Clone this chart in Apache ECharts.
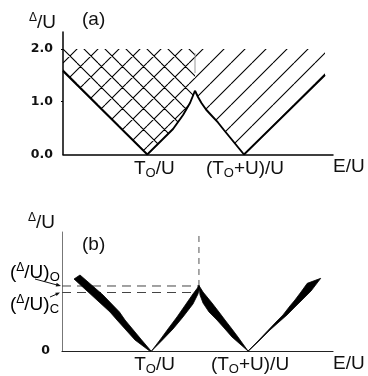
<!DOCTYPE html>
<html><head><meta charset="utf-8">
<script src="https://cdn.jsdelivr.net/npm/echarts@6/dist/echarts.min.js"></script>
<style>html,body{margin:0;padding:0;background:#fff}#c{width:368px;height:376px}</style>
</head><body><div id="c"></div>
<script>
// ---------------- data ----------------
// panel (a)
const aYTicks = [0, 1, 2];
const aT0 = 0.874, aT0U = 1.877;
const aV1X = [0, 0.874, 1.141, 1.245, 1.317, 1.351, 1.369];
const aV1Y = [1.583, 0, 0.483, 0.749, 0.976, 1.128, 1.209];
const aV2X = [1.369, 1.40, 1.436, 1.483, 1.545, 1.607, 1.669, 1.877, 2.717];
const aV2Y = [1.209, 1.09, 0.976, 0.853, 0.730, 0.607, 0.464, 0, 1.507];
const aHatchTop = 2.0;
const aDividerY = [1.545, 1.92];
// panel (b)
const bT0 = 0.925, bT0U = 1.922;
const bLevelO = 1.229, bLevelC = 1.106;
const bCuspX = 1.415;
const wedgeLX = [0.186, 0.424, 0.594, 0.651, 0.823, 0.920, 0.899, 0.754, 0.568, 0.496, 0.310, 0.124];
const wedgeLY = [1.437, 1.059, 0.737, 0.586, 0.208, 0, 0.009, 0.208, 0.586, 0.737, 1.049, 1.361];
const wedgeM1X = [0.925, 1.012, 1.095, 1.188, 1.281, 1.353, 1.395, 1.415, 1.421, 1.405, 1.353, 1.250, 1.147, 1.038];
const wedgeM1Y = [0, 0.208, 0.416, 0.643, 0.888, 1.078, 1.181, 1.238, 1.191, 1.078, 0.888, 0.643, 0.416, 0.208];
const wedgeM2X = [1.415, 1.426, 1.457, 1.519, 1.601, 1.684, 1.756, 1.839, 1.922, 1.870, 1.818, 1.756, 1.684, 1.622, 1.550, 1.457];
const wedgeM2Y = [1.238, 1.059, 0.907, 0.737, 0.586, 0.416, 0.265, 0.132, 0, 0.132, 0.265, 0.416, 0.586, 0.737, 0.907, 1.115];
const wedgeRX = [1.922, 2.025, 2.128, 2.211, 2.283, 2.355, 2.407, 2.469, 2.534, 2.673, 2.573, 2.480, 2.407, 2.325, 2.242, 2.149, 2.035, 1.927];
const wedgeRY = [0, 0.189, 0.388, 0.548, 0.681, 0.851, 0.964, 1.115, 1.280, 1.374, 1.134, 0.964, 0.832, 0.681, 0.548, 0.397, 0.189, 0];

// ---------------- helpers ----------------
const FONT = 'Liberation Sans';
const zip = (xs, ys) => xs.map((x, i) => [x, ys[i]]);

function makeHatch(cross) {
  const s = 21;
  const c = document.createElement('canvas');
  c.width = s; c.height = s;
  const g = c.getContext('2d');
  g.strokeStyle = '#000';
  g.lineWidth = 1.1;
  g.beginPath();
  for (let k = -2; k <= 2; k++) {
    g.moveTo(k * s, s); g.lineTo(k * s + s, 0);
    if (cross) { g.moveTo(14 + k * s, 0); g.lineTo(14 + k * s + s, s); }
  }
  g.stroke();
  return c;
}
const crossPat = { image: makeHatch(true), repeat: 'repeat' };
const singlePat = { image: makeHatch(false), repeat: 'repeat' };

const cuspX = aV1X[aV1X.length - 1];
const lastX = aV2X[aV2X.length - 1];
const hatchRegions = [
  { pts: zip(aV1X, aV1Y).concat([[cuspX, aHatchTop], [0, aHatchTop]]), fill: crossPat },
  { pts: zip(aV2X, aV2Y).concat([[lastX, aHatchTop], [cuspX, aHatchTop]]), fill: singlePat }
];
const wedges = [zip(wedgeLX, wedgeLY), zip(wedgeM1X, wedgeM1Y), zip(wedgeM2X, wedgeM2Y), zip(wedgeRX, wedgeRY)];

const labelRich = {
  t: { fontFamily: FONT, fontSize: 19, lineHeight: 22, color: '#111' },
  s: { fontFamily: FONT, fontSize: 13, lineHeight: 13, padding: [9, 0, 0, 0], color: '#111' },
  d: { fontFamily: FONT, fontSize: 12, lineHeight: 12, padding: [0, 0, 10, 0], color: '#111' },
  sp14: { width: 14 }, sp4: { width: 4 }, sp6: { width: 6 }, sp2: { width: 2 }
};
function xFmt(t0, t0u, sp0, sp1) {
  return v => {
    if (Math.abs(v - t0) < 1e-6) return '{' + sp0 + '| }{t|T}{s|O}{t|/U}';
    if (Math.abs(v - t0u) < 1e-6) return '{' + sp1 + '| }{t|(T}{s|O}{t|+U)/U}';
    return '';
  };
}
const nameStyle = { fontFamily: FONT, fontSize: 19, color: '#111', align: 'left', verticalAlign: 'top', padding: [3, 0, 0, 0] };
const yNameStyle = { align: 'right', verticalAlign: 'bottom', padding: [0, 7, 0, 0], rich: labelRich };
const yLabStyle = { fontFamily: 'DejaVu Sans', fontWeight: 'bold', fontSize: 12.5, color: '#111' };

const option = {
  animation: false,
  backgroundColor: '#fff',
  title: [
    { text: '(a)', left: 82, top: 10, padding: 0, textStyle: { fontFamily: FONT, fontSize: 19, fontWeight: 'normal', color: '#111' } },
    { text: '(b)', left: 82, top: 235, padding: 0, textStyle: { fontFamily: FONT, fontSize: 19, fontWeight: 'normal', color: '#111' } }
  ],
  grid: [
    { left: 63, top: 32, width: 270, height: 122.5 },
    { left: 62, top: 232, width: 271, height: 119 }
  ],
  xAxis: [
    { gridIndex: 0, type: 'value', min: 0, max: 2.8, splitLine: { show: false },
      axisLine: { lineStyle: { color: '#000', width: 1.5 } }, axisTick: { show: false },
      axisLabel: { customValues: [aT0, aT0U], formatter: xFmt(aT0, aT0U, 'sp14', 'sp2'), rich: labelRich, margin: 3 },
      name: 'E/U', nameLocation: 'end', nameGap: 0, nameTextStyle: nameStyle },
    { gridIndex: 1, type: 'value', min: 0, max: 2.8, splitLine: { show: false },
      axisLine: { lineStyle: { color: '#222', width: 1.2 } }, axisTick: { show: false },
      axisLabel: { customValues: [bT0, bT0U], formatter: xFmt(bT0, bT0U, 'sp6', 'sp4'), rich: labelRich, margin: 3 },
      name: 'E/U', nameLocation: 'end', nameGap: 0, nameTextStyle: nameStyle }
  ],
  yAxis: [
    { gridIndex: 0, type: 'value', min: 0, max: 2.322, splitLine: { show: false },
      axisLine: { lineStyle: { color: '#000', width: 1.5 } },
      axisTick: { show: true, customValues: [1, 2], length: 2, lineStyle: { color: '#000' } },
      axisLabel: { customValues: aYTicks, formatter: v => v.toFixed(1), margin: 10, padding: [3, 0, 0, 0], ...yLabStyle },
      name: '{d|Δ}{t|/U}', nameLocation: 'end', nameGap: -2, nameTextStyle: yNameStyle },
    { gridIndex: 1, type: 'value', min: 0, max: 2.25, splitLine: { show: false },
      axisLine: { lineStyle: { color: '#777', width: 1 } }, axisTick: { show: false },
      axisLabel: { customValues: [0], formatter: v => String(v), margin: 12, padding: [3, 0, 0, 0], ...yLabStyle },
      name: '{d|Δ}{t|/U}', nameLocation: 'end', nameGap: -2, nameTextStyle: yNameStyle }
  ],
  series: [
    { type: 'custom', xAxisIndex: 0, yAxisIndex: 0, z: 1, silent: true,
      data: hatchRegions.map(r => [r.pts[0][0], r.pts[0][1]]),
      renderItem: (params, api) => {
        const r = hatchRegions[params.dataIndex];
        return { type: 'polygon', shape: { points: r.pts.map(p => api.coord(p)) }, style: { fill: r.fill } };
      } },
    { type: 'line', xAxisIndex: 0, yAxisIndex: 0, z: 3, data: zip(aV1X, aV1Y), showSymbol: false, lineStyle: { color: '#000', width: 1.9 } },
    { type: 'line', xAxisIndex: 0, yAxisIndex: 0, z: 3, data: zip(aV2X, aV2Y), showSymbol: false, lineStyle: { color: '#000', width: 1.9 } },
    { type: 'line', xAxisIndex: 0, yAxisIndex: 0, z: 2, data: [[cuspX, aDividerY[0]], [cuspX, aDividerY[1]]], showSymbol: false, lineStyle: { color: '#999', width: 1 } },
    { type: 'custom', xAxisIndex: 1, yAxisIndex: 1, z: 3, silent: true,
      data: wedges.map(w => w[0]),
      renderItem: (params, api) => {
        const w = wedges[params.dataIndex];
        return { type: 'polygon', shape: { points: w.map(p => api.coord(p)) }, style: { fill: '#000', stroke: '#000', lineWidth: 0.8 } };
      } },
    { type: 'line', xAxisIndex: 1, yAxisIndex: 1, z: 2, data: [[0, bLevelO], [bCuspX, bLevelO]], showSymbol: false, lineStyle: { color: '#444', width: 1, type: [9, 6] } },
    { type: 'line', xAxisIndex: 1, yAxisIndex: 1, z: 2, data: [[0, bLevelC], [1.40, bLevelC]], showSymbol: false, lineStyle: { color: '#444', width: 1, type: [9, 6] } },
    { type: 'line', xAxisIndex: 1, yAxisIndex: 1, z: 2, data: [[bCuspX, bLevelO], [bCuspX, 2.25]], showSymbol: false, lineStyle: { color: '#555', width: 1, type: [6, 5] } }
  ],
  graphic: [
    { type: 'text', left: 10, top: 262, style: { text: '{t|(}{d|Δ}{t|/U)}{s|O}', rich: labelRich } },
    { type: 'text', left: 10, top: 294, style: { text: '{t|(}{d|Δ}{t|/U)}{s|C}', rich: labelRich } },
    { type: 'line', shape: { x1: 35, y1: 279, x2: 57, y2: 285 }, style: { stroke: '#111', lineWidth: 1 } },
    { type: 'polygon', shape: { points: [[61, 286], [56.7, 282.8], [55.7, 286.6]] }, style: { fill: '#111' } },
    { type: 'line', shape: { x1: 50, y1: 297, x2: 57, y2: 294 }, style: { stroke: '#111', lineWidth: 1 } },
    { type: 'polygon', shape: { points: [[60, 292.5], [56.6, 295.9], [55.2, 292.7]] }, style: { fill: '#111' } }
  ]
};
const chart = echarts.init(document.getElementById('c'), null, { renderer: 'canvas' });
chart.setOption(option);
</script>
</body></html>
